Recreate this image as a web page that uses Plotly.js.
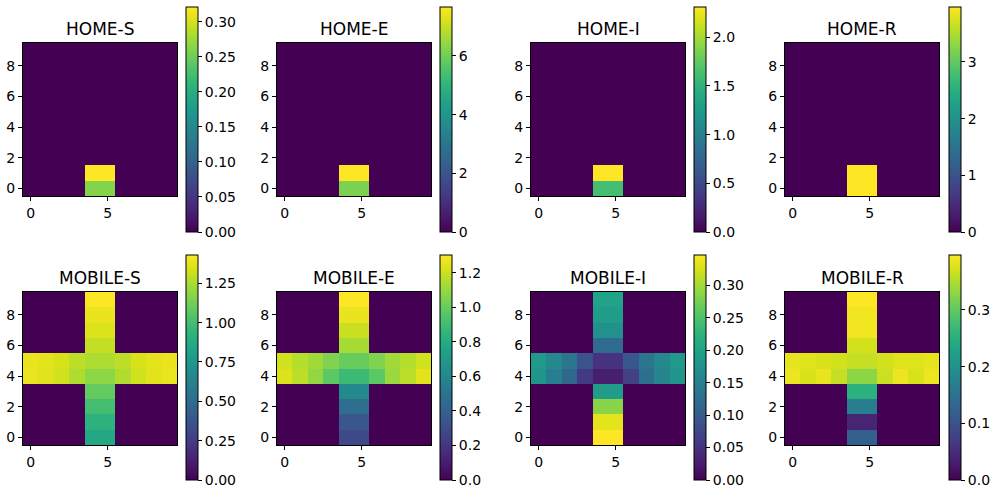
<!DOCTYPE html>
<html>
<head>
<meta charset="utf-8">
<script src="https://cdn.plot.ly/plotly-3.0.1.min.js"></script>
<style>html,body{margin:0;padding:0;background:#fff;}#chart{width:994px;height:491px;}</style>
</head>
<body>
<div id="chart"></div>
<script>
// ---- data (row 0 = bottom, columns 0..9) ----
const titles = ["HOME-S", "HOME-E", "HOME-I", "HOME-R", "MOBILE-S", "MOBILE-E", "MOBILE-I", "MOBILE-R"];
const xCells = [0, 1, 2, 3, 4, 5, 6, 7, 8, 9];
const yCells = [0, 1, 2, 3, 4, 5, 6, 7, 8, 9];
const xTickVals = [0, 5];
const yTickVals = [0, 2, 4, 6, 8];

const homeS = [
  [0,0,0,0,0.262,0.262,0,0,0,0],
  [0,0,0,0,0.321,0.321,0,0,0,0],
  [0,0,0,0,0,0,0,0,0,0],
  [0,0,0,0,0,0,0,0,0,0],
  [0,0,0,0,0,0,0,0,0,0],
  [0,0,0,0,0,0,0,0,0,0],
  [0,0,0,0,0,0,0,0,0,0],
  [0,0,0,0,0,0,0,0,0,0],
  [0,0,0,0,0,0,0,0,0,0],
  [0,0,0,0,0,0,0,0,0,0]
];
const homeE = [
  [0,0,0,0,6.15,6.15,0,0,0,0],
  [0,0,0,0,7.67,7.67,0,0,0,0],
  [0,0,0,0,0,0,0,0,0,0],
  [0,0,0,0,0,0,0,0,0,0],
  [0,0,0,0,0,0,0,0,0,0],
  [0,0,0,0,0,0,0,0,0,0],
  [0,0,0,0,0,0,0,0,0,0],
  [0,0,0,0,0,0,0,0,0,0],
  [0,0,0,0,0,0,0,0,0,0],
  [0,0,0,0,0,0,0,0,0,0]
];
const homeI = [
  [0,0,0,0,1.62,1.62,0,0,0,0],
  [0,0,0,0,2.31,2.31,0,0,0,0],
  [0,0,0,0,0,0,0,0,0,0],
  [0,0,0,0,0,0,0,0,0,0],
  [0,0,0,0,0,0,0,0,0,0],
  [0,0,0,0,0,0,0,0,0,0],
  [0,0,0,0,0,0,0,0,0,0],
  [0,0,0,0,0,0,0,0,0,0],
  [0,0,0,0,0,0,0,0,0,0],
  [0,0,0,0,0,0,0,0,0,0]
];
const homeR = [
  [0,0,0,0,3.97,3.97,0,0,0,0],
  [0,0,0,0,3.96,3.96,0,0,0,0],
  [0,0,0,0,0,0,0,0,0,0],
  [0,0,0,0,0,0,0,0,0,0],
  [0,0,0,0,0,0,0,0,0,0],
  [0,0,0,0,0,0,0,0,0,0],
  [0,0,0,0,0,0,0,0,0,0],
  [0,0,0,0,0,0,0,0,0,0],
  [0,0,0,0,0,0,0,0,0,0],
  [0,0,0,0,0,0,0,0,0,0]
];
const mobileS = [
  [0,0,0,0,0.86,0.86,0,0,0,0],
  [0,0,0,0,0.915,0.915,0,0,0,0],
  [0,0,0,0,1.00,1.00,0,0,0,0],
  [0,0,0,0,1.087,1.087,0,0,0,0],
  [1.39,1.36,1.33,1.26,1.187,1.187,1.26,1.33,1.37,1.39],
  [1.387,1.373,1.344,1.287,1.258,1.258,1.29,1.344,1.373,1.387],
  [0,0,0,0,1.30,1.30,0,0,0,0],
  [0,0,0,0,1.358,1.358,0,0,0,0],
  [0,0,0,0,1.387,1.387,0,0,0,0],
  [0,0,0,0,1.425,1.425,0,0,0,0]
];
const mobileE = [
  [0,0,0,0,0.286,0.286,0,0,0,0],
  [0,0,0,0,0.35,0.35,0,0,0,0],
  [0,0,0,0,0.47,0.47,0,0,0,0],
  [0,0,0,0,0.61,0.61,0,0,0,0],
  [1.235,1.17,1.09,0.975,0.884,0.884,0.975,1.105,1.17,1.248],
  [1.21,1.157,1.118,1.053,1.00,1.00,1.053,1.118,1.157,1.21],
  [0,0,0,0,1.13,1.13,0,0,0,0],
  [0,0,0,0,1.196,1.196,0,0,0,0],
  [0,0,0,0,1.26,1.26,0,0,0,0],
  [0,0,0,0,1.30,1.30,0,0,0,0]
];
const mobileI = [
  [0,0,0,0,0.347,0.347,0,0,0,0],
  [0,0,0,0,0.333,0.333,0,0,0,0],
  [0,0,0,0,0.285,0.285,0,0,0,0],
  [0,0,0,0,0.19,0.19,0,0,0,0],
  [0.18,0.146,0.115,0.059,0.028,0.028,0.066,0.125,0.156,0.18],
  [0.184,0.163,0.135,0.087,0.049,0.049,0.094,0.135,0.163,0.184],
  [0,0,0,0,0.121,0.121,0,0,0,0],
  [0,0,0,0,0.174,0.174,0,0,0,0],
  [0,0,0,0,0.19,0.19,0,0,0,0],
  [0,0,0,0,0.20,0.20,0,0,0,0]
];
const mobileR = [
  [0,0,0,0,0.12,0.12,0,0,0,0],
  [0,0,0,0,0.04,0.04,0,0,0,0],
  [0,0,0,0,0.168,0.168,0,0,0,0],
  [0,0,0,0,0.252,0.252,0,0,0,0],
  [0.386,0.374,0.384,0.362,0.328,0.328,0.366,0.386,0.374,0.386],
  [0.382,0.378,0.374,0.37,0.362,0.362,0.37,0.378,0.378,0.382],
  [0,0,0,0,0.37,0.37,0,0,0,0],
  [0,0,0,0,0.39,0.39,0,0,0,0],
  [0,0,0,0,0.39,0.39,0,0,0,0],
  [0,0,0,0,0.397,0.397,0,0,0,0]
];
const zMax = [0.321, 7.67, 2.31, 3.97, 1.43, 1.302, 0.347, 0.397];
const cbDtick = [0.05, 2, 0.5, 1, 0.25, 0.2, 0.05, 0.1];
const cbFormat = [".2f", "d", ".1f", "d", ".2f", ".1f", ".2f", ".1f"];
const grids = [homeS, homeE, homeI, homeR, mobileS, mobileE, mobileI, mobileR];

// ---- layout geometry (pixels) ----
const W = 994, H = 491;
const axX = [[23, 177], [277, 431], [531, 685], [785, 939]];
const cbX = [185.5, 439.5, 694, 948.5];
const axY = [[43, 196], [292, 445]];
const cbY = [[7, 232], [255, 480]];
const font = "DejaVu Sans, Verdana, sans-serif";

const data = [];
const layout = {
  width: W, height: H,
  margin: {l: 0, r: 0, t: 0, b: 0},
  paper_bgcolor: "#fff", plot_bgcolor: "#fff",
  font: {family: font, size: 14, color: "#000"},
  showlegend: false,
  annotations: []
};

for (let i = 0; i < 8; i++) {
  const row = Math.floor(i / 4), col = i % 4;
  const n = i + 1;
  const xa = n === 1 ? "x" : "x" + n;
  const ya = n === 1 ? "y" : "y" + n;
  data.push({
    type: "heatmap",
    x: xCells, y: yCells, z: grids[i],
    xaxis: xa, yaxis: ya,
    colorscale: "Viridis",
    zmin: 0, zmax: zMax[i],
    hoverinfo: "skip",
    colorbar: {
      x: cbX[col] / W, xanchor: "left", xpad: 0,
      y: 1 - cbY[row][0] / H, yanchor: "top", ypad: 0,
      len: cbY[row][1] - cbY[row][0], lenmode: "pixels",
      thickness: 12, thicknessmode: "pixels",
      outlinewidth: 1, outlinecolor: "#000",
      ticks: "outside", ticklen: 4, tickwidth: 1, tickcolor: "#000",
      tick0: 0, dtick: cbDtick[i], tickformat: cbFormat[i],
      tickfont: {family: font, size: 14, color: "#000"}
    }
  });
  const axCommon = {
    range: [-0.5, 9.5],
    showgrid: false, zeroline: false,
    showline: true, mirror: true, linecolor: "#000", linewidth: 1,
    ticks: "outside", ticklen: 4, tickwidth: 1, tickcolor: "#000",
    tickfont: {family: font, size: 14, color: "#000"},
    fixedrange: true
  };
  layout["xaxis" + (n === 1 ? "" : n)] = Object.assign({}, axCommon, {
    domain: [axX[col][0] / W, axX[col][1] / W],
    anchor: ya, tickmode: "array", tickvals: xTickVals
  });
  layout["yaxis" + (n === 1 ? "" : n)] = Object.assign({}, axCommon, {
    domain: [1 - axY[row][1] / H, 1 - axY[row][0] / H],
    anchor: xa, tickmode: "array", tickvals: yTickVals
  });
  layout.annotations.push({
    text: titles[i], showarrow: false,
    xref: "paper", yref: "paper",
    x: (axX[col][0] + axX[col][1]) / 2 / W, xanchor: "center",
    y: 1 - (axY[row][0] - 2) / H, yanchor: "bottom",
    font: {family: font, size: 17, color: "#000"}
  });
}

Plotly.newPlot("chart", data, layout, {staticPlot: true, displayModeBar: false});
</script>
</body>
</html>
